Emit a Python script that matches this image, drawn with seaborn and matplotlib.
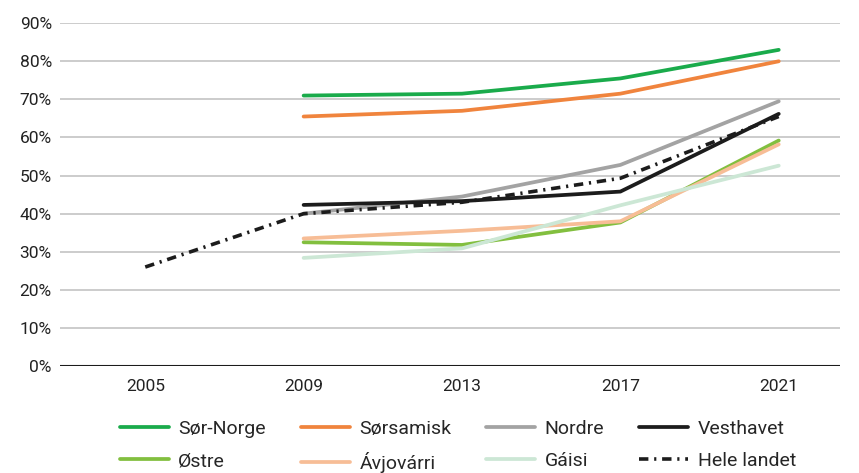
import pandas as pd
import matplotlib.pyplot as plt
import seaborn as sns
from matplotlib.ticker import PercentFormatter

# Data (share in %)
years = [2005, 2009, 2013, 2017, 2021]
sor_norge = [None, 71.0, 71.5, 75.5, 83.0]
sorsamisk = [None, 65.5, 67.0, 71.5, 80.0]
nordre = [None, 40.0, 44.5, 52.8, 69.5]
vesthavet = [None, 42.3, 43.3, 45.8, 66.2]
ostre = [None, 32.5, 31.8, 37.7, 59.2]
avjovarri = [None, 33.5, 35.5, 38.0, 58.2]
gaisi = [None, 28.4, 30.9, 42.2, 52.6]
hele_landet = [26.0, 40.0, 43.0, 49.3, 65.5]

names = ["Sør-Norge", "Sørsamisk", "Nordre", "Vesthavet",
         "Østre", "Ávjovárri", "Gáisi", "Hele landet"]
series = [sor_norge, sorsamisk, nordre, vesthavet, ostre, avjovarri, gaisi, hele_landet]
colors = ["#1aab4b", "#f0843d", "#a3a3a3", "#1c1c1c",
          "#82bf3f", "#f7bd96", "#cce7d5", "#1c1c1c"]

rows = []
for name, vals in zip(names, series):
    for y, v in zip(years, vals):
        if v is not None:
            rows.append({"year": y, "value": v, "region": name})
df = pd.DataFrame(rows)

sns.set_style("white")
plt.rcParams['font.family'] = ['Roboto', 'DejaVu Sans']

fig = plt.figure(figsize=(8.59, 4.73), dpi=100)
ax = fig.add_axes([0.07, 0.226, 0.908, 0.725])

for name, col in zip(names, colors):
    sub = df[df["region"] == name]
    if name == "Hele landet":
        sns.lineplot(data=sub, x="year", y="value", ax=ax, color=col, lw=2.6,
                     label=name, linestyle=(0, (2.6, 1.6, 0.6, 1.6)))
    else:
        sns.lineplot(data=sub, x="year", y="value", ax=ax, color=col, lw=2.7,
                     label=name)

ax.set_xlim(2002.85, 2022.55)
ax.set_ylim(0, 90)
ax.set_xticks(years)
ax.set_yticks(range(0, 91, 10))
ax.yaxis.set_major_formatter(PercentFormatter(decimals=0))
ax.grid(axis="y", color="#c4c4c4", lw=1.2)
ax.set_axisbelow(True)
ax.axhline(0, color="#1c1c1c", lw=1.5)
for s in ax.spines.values():
    s.set_visible(False)
ax.tick_params(axis="both", length=0, labelsize=12.5, colors="#222222", pad=6)
ax.tick_params(axis="x", pad=9)
ax.set_xlabel("")
ax.set_ylabel("")

# legend filled row by row (matplotlib fills column by column)
handles, labels = ax.get_legend_handles_labels()
order = [0, 4, 1, 5, 2, 6, 3, 7]
ax.legend([handles[i] for i in order], [labels[i] for i in order],
          loc="upper center", bbox_to_anchor=(0.51, -0.118), ncol=4, frameon=False,
          fontsize=14, handlelength=2.5, handletextpad=0.5, columnspacing=1.8,
          labelspacing=0.72, borderpad=0.2)

fig.savefig("out.png", dpi=100)
